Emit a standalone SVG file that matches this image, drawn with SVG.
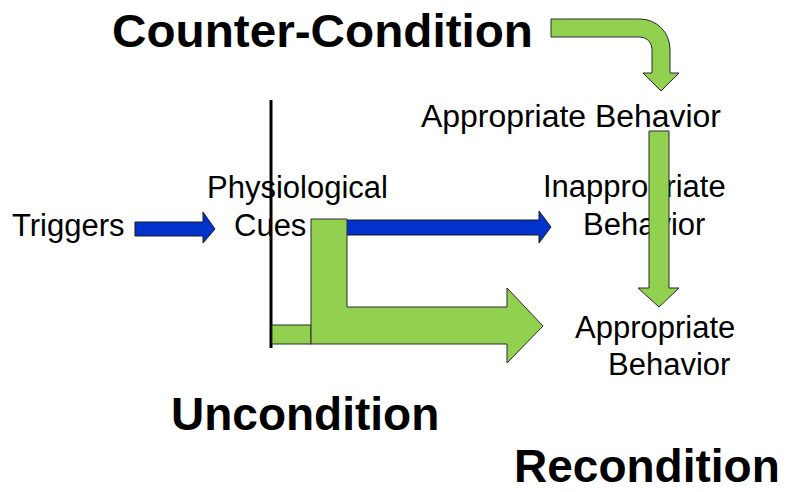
<svg xmlns="http://www.w3.org/2000/svg" width="790" height="492" viewBox="0 0 790 492">
<style>
.t{font-family:"Liberation Sans",Arial,sans-serif;font-size:31px;fill:#000}
.b{font-family:"Liberation Sans",Arial,sans-serif;font-size:46px;font-weight:bold;fill:#000}
.g{fill:#92D050;stroke:#2a2a2a;stroke-width:1}
.bl{fill:#0033CC;stroke:#1a1a1a;stroke-width:1}
</style>
<rect width="790" height="492" fill="#fff"/>
<g id="labels">
<text id="counter" class="b" x="112" y="47" textLength="421" lengthAdjust="spacingAndGlyphs">Counter-Condition</text>
<text id="uncondition" class="b" x="171" y="430">Uncondition</text>
<text id="recondition" class="b" x="514" y="482">Recondition</text>
</g>
<g id="triggers"><text class="t" x="12" y="236">Triggers</text></g>
<g id="cues"><text class="t" x="207" y="198">Physiological</text><text class="t" x="234" y="236">Cues</text></g>
<g id="inappropriate"><text class="t" x="543" y="197">Inappropriate</text><text class="t" x="583" y="235">Behavior</text></g>
<g id="appropriate-top"><text class="t" x="421" y="127" textLength="300" lengthAdjust="spacingAndGlyphs">Appropriate Behavior</text></g>
<g id="appropriate-bottom"><text class="t" x="575" y="338">Appropriate</text><text class="t" x="608" y="375">Behavior</text></g>
<g id="connectors">
<line x1="271" y1="100" x2="271" y2="348" stroke="#000" stroke-width="3"/>
<polygon class="bl" points="135,222 203,222 203,212 215,229 203,243 203,236 135,236"/>
<polygon class="bl" points="320,220 539,220 539,211 551,227 539,243 539,235 320,235"/>
<rect class="g" x="272" y="325" width="39" height="19"/>
<polygon class="g" points="311,219 347,219 347,307 507,307 507,288 543,326 507,363 507,344 311,344"/>
<polygon class="g" points="649,131 669,131 669,288 679,288 659,307 638,288 649,288"/>
<path class="g" d="M551,19 L640,19 A30,30 0 0 1 670,49 L670,73 L679,73 L661,91 L643,73 L652,73 L652,49 A12,12 0 0 0 640,37 L551,37 Z"/>
</g>
</svg>
